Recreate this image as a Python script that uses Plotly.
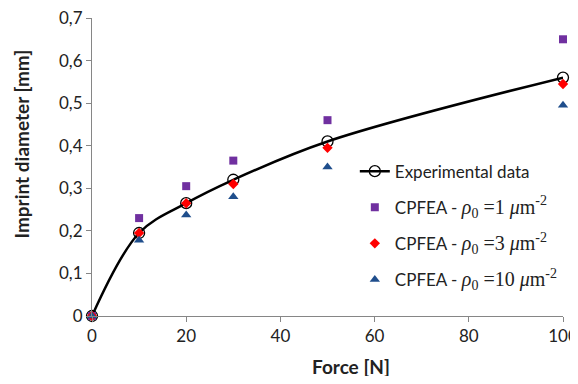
import plotly.graph_objects as go

force = [0, 10, 20, 30, 50, 100]
exp_vals = [0, 0.195, 0.265, 0.32, 0.41, 0.56]
rho1_vals = [0, 0.23, 0.305, 0.365, 0.46, 0.65]
rho3_vals = [0, 0.195, 0.265, 0.31, 0.395, 0.545]
rho10_vals = [0, 0.178, 0.237, 0.28, 0.35, 0.495]

y_ticks = [0, 0.1, 0.2, 0.3, 0.4, 0.5, 0.6, 0.7]
y_ticktext = ["0", "0,1", "0,2", "0,3", "0,4", "0,5", "0,6", "0,7"]
x_ticks = [0, 20, 40, 60, 80, 100]

x_title = "Force [N]"
y_title = "Imprint diameter [mm]"

SERIF = "Liberation Serif"

def rho_label(v):
    return ("CPFEA - <span style='font-family:%s;font-size:20px'><i>ρ</i><sub>0</sub> =%s <i>μ</i>m<sup>-2</sup></span>"
            % (SERIF, v))

fig = go.Figure()
fig.add_trace(go.Scatter(
    x=force, y=exp_vals, mode="lines+markers", name="Experimental data", legendgroup="a",
    line=dict(color="black", width=2.5, shape="spline", smoothing=1),
    marker=dict(symbol="circle-open", size=11, color="black", line=dict(width=1.3)),
    cliponaxis=False))
fig.add_trace(go.Scatter(
    x=force, y=rho1_vals, mode="markers", name=rho_label("1"), legendgroup="b",
    marker=dict(symbol="square", size=8, color="#7030A0"), cliponaxis=False))
fig.add_trace(go.Scatter(
    x=force, y=rho3_vals, mode="markers", name=rho_label("3"), legendgroup="c",
    marker=dict(symbol="diamond", size=8, color="#FF0000"), cliponaxis=False))
fig.add_trace(go.Scatter(
    x=force, y=rho10_vals, mode="markers", name=rho_label("10"), legendgroup="d",
    marker=dict(symbol="triangle-up", size=9, color="#1F4E8C"), cliponaxis=False))

axis_common = dict(showgrid=False, zeroline=False, showline=True, linecolor="#868686",
                   linewidth=1, ticks="outside", ticklen=5, tickcolor="#868686",
                   ticklabeloverflow="allow",
                   tickfont=dict(size=17, color="#222"))

# page body has an 8px default margin: the figure is sized so the page does not overflow
# the 578x384 window, and the plot area lands where the reference's is
fig.update_layout(
    width=570, height=368,
    margin=dict(l=84, r=15, t=10, b=60, autoexpand=False),
    paper_bgcolor="white", plot_bgcolor="white",
    font=dict(family="Lato, Liberation Sans, sans-serif", color="#222"),
    xaxis=dict(range=[0, 100], tickvals=x_ticks, **axis_common),
    yaxis=dict(range=[0, 0.7], tickvals=y_ticks, ticktext=y_ticktext, **axis_common),
    legend=dict(x=0.558, y=0.545, xanchor="left", yanchor="top", bgcolor="rgba(0,0,0,0)",
                font=dict(size=17, color="#222"), itemwidth=30, tracegroupgap=11),
    showlegend=True,
    annotations=[
        dict(text="<b>%s</b>" % x_title, xref="paper", yref="paper", x=0.55, y=-0.168,
             xanchor="center", yanchor="middle", showarrow=False,
             font=dict(size=19, color="#222")),
        dict(text="<b>%s</b>" % y_title, xref="paper", yref="paper", x=-0.149, y=0.578,
             xanchor="center", yanchor="middle", textangle=-90, showarrow=False,
             font=dict(size=19, color="#222")),
    ],
)

fig.write_html("out.html")
